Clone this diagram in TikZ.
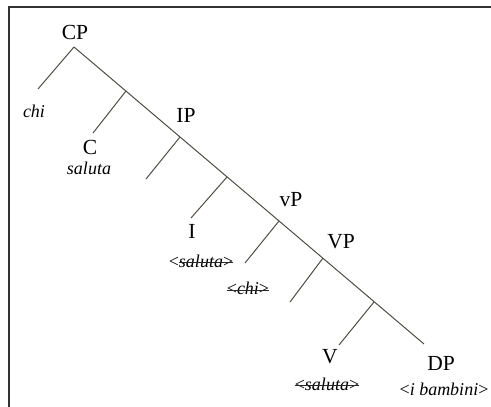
\documentclass[tikz,border=0pt]{standalone}
\usepackage{fontspec}
\setmainfont{Liberation Serif}
\usepackage{tikz}
\definecolor{branchgray}{RGB}{80, 76, 70}
\definecolor{framegray}{RGB}{50, 50, 50}
\definecolor{inkgray}{RGB}{40, 40, 40}
\tikzset{
  cat/.style={inner sep=0pt, font=\fontsize{21.5}{26}\selectfont},
  word/.style={inner sep=0pt, font=\fontsize{18}{21}\selectfont\itshape},
  branch/.style={draw=branchgray, line width=1pt},
  strike/.style={draw=inkgray, line width=0.9pt},
}

\begin{document}
\begin{tikzpicture}[x=1pt, y=-1pt]
                    \useasboundingbox (0,0) rectangle (491,407);
                    \draw[framegray, line width=1.5pt] (9,407) -- (9,7) -- (491,7);

                    % spine points
                    \coordinate (cp) at (74,47);
                    \coordinate (cbar) at (126,91);
                    \coordinate (ip) at (180,137);
                    \coordinate (ibar) at (227,177);
                    \coordinate (vp) at (279,221);
                    \coordinate (vpbig) at (323,258);
                    \coordinate (vbar) at (374,302);
                    \coordinate (dp) at (424,344);
                    % branch ends
                    \coordinate (spec) at (38,89);
                    \coordinate (chead) at (93,133);
                    \coordinate (ispec) at (146,179);
                    \coordinate (ihead) at (191,218);
                    \coordinate (vspec) at (245,263);
                    \coordinate (vpspec) at (290,302);
                    \coordinate (vhead) at (339,345);

                    \node[cat] (cplab) at (75,32) {CP};
                    \node[word] (chi) at (34,111) {chi};
                    \node[cat] (clab) at (90,147) {C};
                    \node[word] (csal) at (89,168) {saluta};
                    \node[cat] (iplab) at (186,115) {IP};
                    \node[cat] (ilab) at (192,231) {I};
                    \node[word] (isal) at (201,261) {\upshape<\itshape saluta\upshape>};
                    \node[cat] (vplab) at (291,200) {vP};
                    \node[word] (vchi) at (248,288) {\upshape<\itshape chi\upshape>};
                    \node[cat] (vpbiglab) at (341,242) {VP};
                    \node[cat] (vlab) at (330,357) {V};
                    \node[word] (vsal) at (327,384) {\upshape<\itshape saluta\upshape>};
                    \node[cat] (dplab) at (441,363) {DP};
                    \node[word] (dpwords) at (444,389) {\upshape<\itshape i bambini\upshape>};

                    \draw[branch] (cp) -- (spec);
                    \draw[branch] (cp) -- (dp);
                    \draw[branch] (cbar) -- (chead);
                    \draw[branch] (ip) -- (ispec);
                    \draw[branch] (ibar) -- (ihead);
                    \draw[branch] (vp) -- (vspec);
                    \draw[branch] (vpbig) -- (vpspec);
                    \draw[branch] (vbar) -- (vhead);

                    % traces struck through
                    \draw[strike] ([xshift=10pt, yshift=4.2pt]isal.base west) -- ([yshift=4.2pt]isal.base east);
                    \draw[strike] ([yshift=4.2pt]vchi.base west) -- ([yshift=4.2pt]vchi.base east);
                    \draw[strike] ([yshift=4.2pt]vsal.base west) -- ([yshift=4.2pt]vsal.base east);
                \end{tikzpicture}
\end{document}
